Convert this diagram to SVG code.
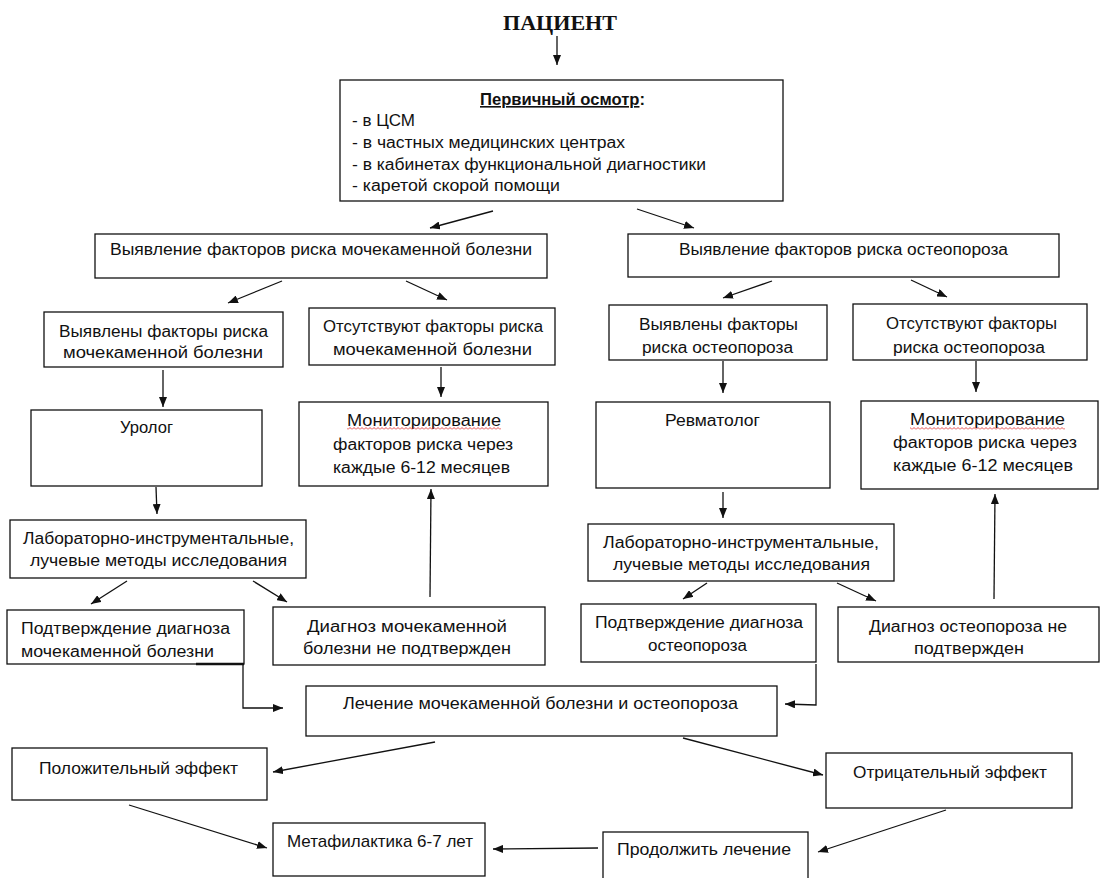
<svg xmlns="http://www.w3.org/2000/svg" width="1102" height="878" viewBox="0 0 1102 878">
<style>
.box{fill:#fff;stroke:#111;stroke-width:1.3}
.t{font-family:"Liberation Sans",Arial,sans-serif;font-size:16px;fill:#111}
.tb{font-family:"Liberation Sans",Arial,sans-serif;font-size:17px;fill:#111}
.title{font-family:"Liberation Serif","Times New Roman",serif;font-size:22px;font-weight:bold;fill:#111}
.c{fill:none;stroke:#111;stroke-width:1.3}
</style>
<defs>
<marker id="ah" markerWidth="10" markerHeight="8" refX="10" refY="4" orient="auto" markerUnits="userSpaceOnUse">
<path d="M0,0 L10,4 L0,8 z" fill="#111"/>
</marker>
<pattern id="wavy" x="0" y="427" width="4" height="3" patternUnits="userSpaceOnUse">
<polyline points="0,2.5 2,0.5 4,2.5" fill="none" stroke="#e02020" stroke-width="0.8"/>
</pattern>
</defs>
<rect width="1102" height="878" fill="#fff"/>

<g id="patient">
<text class="title" x="503" y="30" textLength="114" lengthAdjust="spacingAndGlyphs">ПАЦИЕНТ</text>
</g>

<g id="primary">
<rect class="box" x="340" y="80" width="443" height="121"/>
<text class="t" x="480" y="105" font-weight="bold" textLength="165" lengthAdjust="spacingAndGlyphs"><tspan text-decoration="underline">Первичный осмотр</tspan>:</text>
<text class="t" x="352" y="126" textLength="63" lengthAdjust="spacingAndGlyphs">- в ЦСМ</text>
<text class="t" x="352" y="148" textLength="273" lengthAdjust="spacingAndGlyphs">- в частных медицинских центрах</text>
<text class="t" x="352" y="170" textLength="354" lengthAdjust="spacingAndGlyphs">- в кабинетах функциональной диагностики</text>
<text class="t" x="352" y="191" textLength="208" lengthAdjust="spacingAndGlyphs">- каретой скорой помощи</text>
</g>

<g id="risk-mkb">
<rect class="box" x="95" y="234" width="452" height="44"/>
<text class="t" x="110" y="255" textLength="422" lengthAdjust="spacingAndGlyphs">Выявление факторов риска мочекаменной болезни</text>
</g>
<g id="risk-osteo">
<rect class="box" x="628" y="234" width="431" height="43"/>
<text class="t" x="679" y="255" textLength="329" lengthAdjust="spacingAndGlyphs">Выявление факторов риска остеопороза</text>
</g>

<g id="found-mkb">
<rect class="box" x="44" y="312" width="239" height="55"/>
<text class="t" x="59" y="337" textLength="209" lengthAdjust="spacingAndGlyphs">Выявлены факторы риска</text>
<text class="t" x="63" y="358" textLength="200" lengthAdjust="spacingAndGlyphs">мочекаменной болезни</text>
</g>
<g id="absent-mkb">
<rect class="box" x="309" y="308" width="246" height="57"/>
<text class="t" x="323" y="332" textLength="220" lengthAdjust="spacingAndGlyphs">Отсутствуют факторы риска</text>
<text class="t" x="333" y="355" textLength="199" lengthAdjust="spacingAndGlyphs">мочекаменной болезни</text>
</g>
<g id="found-osteo">
<rect class="box" x="609" y="305" width="218" height="55"/>
<text class="t" x="639" y="330" textLength="159" lengthAdjust="spacingAndGlyphs">Выявлены факторы</text>
<text class="t" x="642" y="353" textLength="151" lengthAdjust="spacingAndGlyphs">риска остеопороза</text>
</g>
<g id="absent-osteo">
<rect class="box" x="853" y="304" width="234" height="56"/>
<text class="t" x="886" y="329" textLength="171" lengthAdjust="spacingAndGlyphs">Отсутствуют факторы</text>
<text class="t" x="893" y="353" textLength="152" lengthAdjust="spacingAndGlyphs">риска остеопороза</text>
</g>

<g id="urolog">
<rect class="box" x="31" y="410" width="231" height="76"/>
<text class="t" x="120" y="433" textLength="53" lengthAdjust="spacingAndGlyphs">Уролог</text>
</g>
<g id="monitor-mkb">
<rect class="box" x="299" y="402" width="249" height="84"/>
<text class="t" x="347" y="426" textLength="154" lengthAdjust="spacingAndGlyphs">Мониторирование</text>
<rect x="347" y="427" width="154" height="3" fill="url(#wavy)"/>
<text class="t" x="333" y="450" textLength="180" lengthAdjust="spacingAndGlyphs">факторов риска через</text>
<text class="t" x="333" y="473" textLength="177" lengthAdjust="spacingAndGlyphs">каждые 6-12 месяцев</text>
</g>
<g id="rheumatolog">
<rect class="box" x="596" y="402" width="234" height="86"/>
<text class="t" x="665" y="426" textLength="95" lengthAdjust="spacingAndGlyphs">Ревматолог</text>
</g>
<g id="monitor-osteo">
<rect class="box" x="861" y="401" width="237" height="88"/>
<text class="t" x="910" y="425" textLength="155" lengthAdjust="spacingAndGlyphs">Мониторирование</text>
<rect x="910" y="427" width="155" height="3" fill="url(#wavy)"/>
<text class="t" x="893" y="448" textLength="184" lengthAdjust="spacingAndGlyphs">факторов риска через</text>
<text class="t" x="893" y="471" textLength="180" lengthAdjust="spacingAndGlyphs">каждые 6-12 месяцев</text>
</g>

<g id="lab-mkb">
<rect class="box" x="10" y="520" width="296" height="58"/>
<text class="t" x="23" y="544" textLength="271" lengthAdjust="spacingAndGlyphs">Лабораторно-инструментальные,</text>
<text class="t" x="30" y="566" textLength="257" lengthAdjust="spacingAndGlyphs">лучевые методы исследования</text>
</g>
<g id="lab-osteo">
<rect class="box" x="588" y="524" width="306" height="57"/>
<text class="t" x="603" y="548" textLength="276" lengthAdjust="spacingAndGlyphs">Лабораторно-инструментальные,</text>
<text class="t" x="613" y="570" textLength="257" lengthAdjust="spacingAndGlyphs">лучевые методы исследования</text>
</g>

<g id="confirm-mkb">
<rect class="box" x="7" y="610" width="237" height="54"/>
<line x1="196" y1="664" x2="244" y2="664" stroke="#111" stroke-width="2.6"/>
<text class="t" x="21" y="634" textLength="209" lengthAdjust="spacingAndGlyphs">Подтверждение диагноза</text>
<text class="t" x="21" y="657" textLength="193" lengthAdjust="spacingAndGlyphs">мочекаменной болезни</text>
</g>
<g id="notconfirm-mkb">
<rect class="box" x="273" y="607" width="272" height="58"/>
<text class="t" x="307" y="632" textLength="200" lengthAdjust="spacingAndGlyphs">Диагноз мочекаменной</text>
<text class="t" x="303" y="654" textLength="208" lengthAdjust="spacingAndGlyphs">болезни не подтвержден</text>
</g>
<g id="confirm-osteo">
<rect class="box" x="581" y="604" width="235" height="58"/>
<text class="t" x="595" y="628" textLength="208" lengthAdjust="spacingAndGlyphs">Подтверждение диагноза</text>
<text class="t" x="648" y="651" textLength="99" lengthAdjust="spacingAndGlyphs">остеопороза</text>
</g>
<g id="notconfirm-osteo">
<rect class="box" x="838" y="607" width="261" height="55"/>
<text class="t" x="869" y="632" textLength="198" lengthAdjust="spacingAndGlyphs">Диагноз остеопороза не</text>
<text class="t" x="914" y="654" textLength="110" lengthAdjust="spacingAndGlyphs">подтвержден</text>
</g>

<g id="treatment">
<rect class="box" x="306" y="686" width="471" height="50"/>
<text class="tb" x="343" y="709" textLength="395" lengthAdjust="spacingAndGlyphs">Лечение мочекаменной болезни и остеопороза</text>
</g>
<g id="positive">
<rect class="box" x="12" y="748" width="255" height="52"/>
<text class="tb" x="39" y="774" textLength="199" lengthAdjust="spacingAndGlyphs">Положительный эффект</text>
</g>
<g id="negative">
<rect class="box" x="826" y="753" width="246" height="55"/>
<text class="tb" x="853" y="778" textLength="194" lengthAdjust="spacingAndGlyphs">Отрицательный эффект</text>
</g>
<g id="metaphylaxis">
<rect class="box" x="273" y="823" width="212" height="53"/>
<text class="tb" x="287" y="847" textLength="186" lengthAdjust="spacingAndGlyphs">Метафилактика 6-7 лет</text>
</g>
<g id="continue">
<rect class="box" x="603" y="832" width="205" height="50"/>
<text class="tb" x="617" y="855" textLength="174" lengthAdjust="spacingAndGlyphs">Продолжить лечение</text>
</g>

<g id="connectors">
<line class="c" x1="557" y1="36" x2="557" y2="65" marker-end="url(#ah)"/>
<line class="c" x1="493" y1="211" x2="430" y2="228" marker-end="url(#ah)"/>
<line class="c" x1="637" y1="209" x2="694" y2="228" marker-end="url(#ah)"/>
<line class="c" x1="282" y1="281" x2="228" y2="303" marker-end="url(#ah)"/>
<line class="c" x1="406" y1="281" x2="447" y2="300" marker-end="url(#ah)"/>
<line class="c" x1="772" y1="281" x2="723" y2="298" marker-end="url(#ah)"/>
<line class="c" x1="911" y1="280" x2="947" y2="297" marker-end="url(#ah)"/>
<line class="c" x1="163" y1="370" x2="163" y2="407" marker-end="url(#ah)"/>
<line class="c" x1="441" y1="367" x2="441" y2="397" marker-end="url(#ah)"/>
<line class="c" x1="723" y1="361" x2="723" y2="393" marker-end="url(#ah)"/>
<line class="c" x1="976" y1="361" x2="976" y2="392" marker-end="url(#ah)"/>
<line class="c" x1="156" y1="487" x2="157" y2="514" marker-end="url(#ah)"/>
<line class="c" x1="723" y1="492" x2="723" y2="518" marker-end="url(#ah)"/>
<line class="c" x1="127" y1="581" x2="91" y2="604" marker-end="url(#ah)"/>
<line class="c" x1="253" y1="581" x2="287" y2="602" marker-end="url(#ah)"/>
<line class="c" x1="707" y1="583" x2="683" y2="599" marker-end="url(#ah)"/>
<line class="c" x1="837" y1="583" x2="876" y2="601" marker-end="url(#ah)"/>
<line class="c" x1="430" y1="597" x2="431" y2="489" marker-end="url(#ah)"/>
<line class="c" x1="994" y1="599" x2="995" y2="494" marker-end="url(#ah)"/>
<polyline class="c" points="243,664 243,708 283,708" marker-end="url(#ah)"/>
<polyline class="c" points="816,664 816,705 785,704" marker-end="url(#ah)"/>
<line class="c" x1="435" y1="742" x2="273" y2="772" marker-end="url(#ah)"/>
<line class="c" x1="683" y1="738" x2="823" y2="775" marker-end="url(#ah)"/>
<line class="c" x1="129" y1="805" x2="267" y2="848" marker-end="url(#ah)"/>
<line class="c" x1="946" y1="810" x2="818" y2="852" marker-end="url(#ah)"/>
<line class="c" x1="598" y1="848" x2="493" y2="849" marker-end="url(#ah)"/>
</g>
</svg>
